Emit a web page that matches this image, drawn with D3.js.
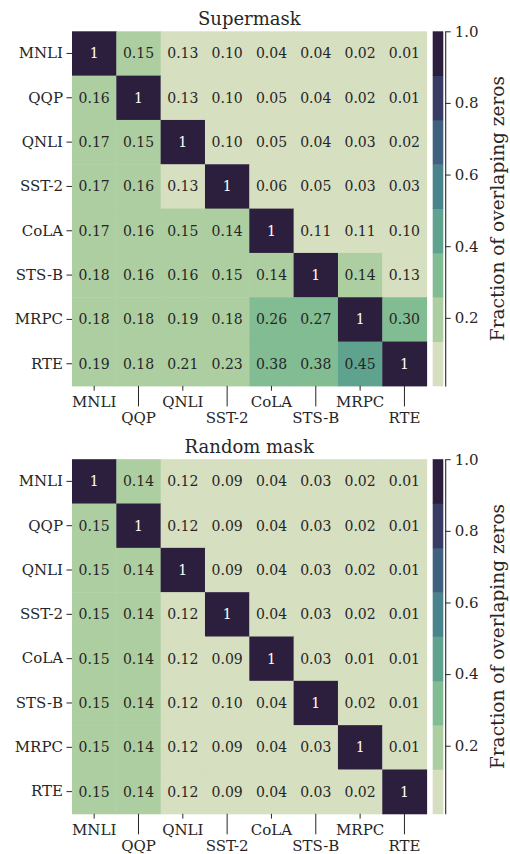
<!DOCTYPE html>
<html>
<head>
<meta charset="utf-8">
<script src="https://cdn.jsdelivr.net/npm/d3@7"></script>
<style>
  html, body { margin: 0; padding: 0; background: #fff; }
  svg { display: block; }
</style>
</head>
<body>
<script>
// ---------------- data ----------------
const tasks = ["MNLI", "QQP", "QNLI", "SST-2", "CoLA", "STS-B", "MRPC", "RTE"];

const supermaskValues = [
  [1,    0.15, 0.13, 0.10, 0.04, 0.04, 0.02, 0.01],
  [0.16, 1,    0.13, 0.10, 0.05, 0.04, 0.02, 0.01],
  [0.17, 0.15, 1,    0.10, 0.05, 0.04, 0.03, 0.02],
  [0.17, 0.16, 0.13, 1,    0.06, 0.05, 0.03, 0.03],
  [0.17, 0.16, 0.15, 0.14, 1,    0.11, 0.11, 0.10],
  [0.18, 0.16, 0.16, 0.15, 0.14, 1,    0.14, 0.13],
  [0.18, 0.18, 0.19, 0.18, 0.26, 0.27, 1,    0.30],
  [0.19, 0.18, 0.21, 0.23, 0.38, 0.38, 0.45, 1]
];

const randomMaskValues = [
  [1,    0.14, 0.12, 0.09, 0.04, 0.03, 0.02, 0.01],
  [0.15, 1,    0.12, 0.09, 0.04, 0.03, 0.02, 0.01],
  [0.15, 0.14, 1,    0.09, 0.04, 0.03, 0.02, 0.01],
  [0.15, 0.14, 0.12, 1,    0.04, 0.03, 0.02, 0.01],
  [0.15, 0.14, 0.12, 0.09, 1,    0.03, 0.01, 0.01],
  [0.15, 0.14, 0.12, 0.10, 0.04, 1,    0.02, 0.01],
  [0.15, 0.14, 0.12, 0.09, 0.04, 0.03, 1,    0.01],
  [0.15, 0.14, 0.12, 0.09, 0.04, 0.03, 0.02, 1]
];

const panelTitles = ["Supermask", "Random mask"];
const colorbarTicks = [0.2, 0.4, 0.6, 0.8, 1.0];
const colorbarLabel = "Fraction of overlaping zeros";
const valueDomain = [0.01, 1.0];
const nColors = 8;

// ---------------- palette (seaborn cubehelix, start=.5, rot=-.75) ----------------
function cubehelixColor(x, start = 0.5, rot = -0.75, gamma = 1.0, hue = 0.8) {
  const xg = Math.pow(x, gamma);
  const a = hue * xg * (1 - xg) / 2;
  const phi = 2 * Math.PI * (start / 3 + rot * x);
  const c = Math.cos(phi), s = Math.sin(phi);
  const clip = v => Math.max(0, Math.min(1, v));
  const r = clip(xg + a * (-0.14861 * c + 1.78277 * s));
  const g = clip(xg + a * (-0.29227 * c - 0.90649 * s));
  const b = clip(xg + a * (1.97294 * c));
  return d3.rgb(r * 255, g * 255, b * 255).formatHex();
}
const palette = d3.range(nColors).map(i => cubehelixColor(0.85 + (0.15 - 0.85) * i / (nColors - 1)));
const color = d3.scaleQuantize().domain(valueDomain).range(palette);

// ---------------- layout ----------------
const W = 510, H = 854;
const serif = "DejaVu Serif";
const svg = d3.select("body").append("svg")
  .attr("width", W).attr("height", H)
  .style("font-family", serif);

const heatLeft = 72, heatSize = 354.6;
const cbLeft = 432.7, cbWidth = 10.6, cbLine = 445.2;
const panels = [
  { title: panelTitles[0], values: supermaskValues, top: 31.3 },
  { title: panelTitles[1], values: randomMaskValues, top: 459.2 }
];
const ink = "#262626";
const fs = 15;

panels.forEach(p => {
  const g = svg.append("g");
  const x = d3.scaleBand().domain(tasks).range([heatLeft, heatLeft + heatSize]);
  const y = d3.scaleBand().domain(tasks).range([p.top, p.top + heatSize]);

  // title
  g.append("text")
    .attr("x", heatLeft + heatSize / 2)
    .attr("y", p.top - 6.5)
    .attr("text-anchor", "middle")
    .style("font-family", serif)
    .style("font-size", "18px")
    .style("fill", ink)
    .text(p.title);

  // cells
  const cells = [];
  p.values.forEach((row, i) => row.forEach((v, j) => cells.push({ r: tasks[i], c: tasks[j], v })));
  g.selectAll("rect.cell").data(cells).join("rect")
    .attr("class", "cell")
    .attr("x", d => x(d.c))
    .attr("y", d => y(d.r))
    .attr("width", x.bandwidth() + 0.5)
    .attr("height", y.bandwidth() + 0.5)
    .attr("fill", d => color(d.v));

  g.selectAll("text.annot").data(cells).join("text")
    .attr("class", "annot")
    .attr("x", d => x(d.c) + x.bandwidth() / 2)
    .attr("y", d => y(d.r) + y.bandwidth() / 2)
    .attr("text-anchor", "middle")
    .attr("dominant-baseline", "central")
    .attr("fill", d => d.v > 0.6 ? "#ffffff" : "#262626")
    .style("font-family", serif)
    .style("font-size", "14px")
    .text(d => d.v === 1 ? "1" : d3.format(".2f")(d.v));

  // y axis
  const yAxis = g.append("g")
    .attr("transform", `translate(${heatLeft},0)`)
    .call(d3.axisLeft(y).tickSize(5.5).tickPadding(3.5));
  yAxis.attr("font-family", serif);
  yAxis.select(".domain").remove();
  yAxis.selectAll("line").attr("stroke", ink).attr("stroke-width", 1);
  yAxis.selectAll("text")
    .attr("fill", ink)
    .style("font-family", serif)
    .style("font-size", fs + "px");

  // x axis with staggered labels
  const bottom = p.top + heatSize;
  const xAxis = g.append("g")
    .attr("transform", `translate(0,${bottom})`)
    .call(d3.axisBottom(x).tickSize(0));
  xAxis.attr("font-family", serif);
  xAxis.select(".domain").remove();
  xAxis.selectAll(".tick").each(function (d, i) {
    const t = d3.select(this);
    t.select("line")
      .attr("y2", i % 2 === 0 ? 4.8 : 20.5)
      .attr("stroke", ink).attr("stroke-width", 1);
    t.select("text")
      .attr("dy", null)
      .attr("y", i % 2 === 0 ? 20.8 : 37.2)
      .attr("fill", ink)
      .style("font-family", serif)
      .style("font-size", fs + "px");
  });

  // colorbar
  const cy = d3.scaleLinear().domain(valueDomain).range([bottom, p.top]);
  const step = (valueDomain[1] - valueDomain[0]) / nColors;
  const bins = palette.map((c, i) => ({ lo: valueDomain[0] + i * step, hi: valueDomain[0] + (i + 1) * step, c }));
  g.selectAll("rect.cb").data(bins).join("rect")
    .attr("class", "cb")
    .attr("x", cbLeft)
    .attr("width", cbWidth)
    .attr("y", d => cy(d.hi))
    .attr("height", d => cy(d.lo) - cy(d.hi) + 0.4)
    .attr("fill", d => d.c);

  const cbAxis = g.append("g")
    .attr("transform", `translate(${cbLine},0)`)
    .call(d3.axisRight(cy).tickValues(colorbarTicks).tickFormat(d3.format(".1f")).tickSize(5.5).tickSizeOuter(0).tickPadding(4));
  cbAxis.attr("font-family", serif);
  cbAxis.select(".domain").attr("stroke", ink).attr("stroke-width", 1.1);
  cbAxis.selectAll("line").attr("stroke", ink).attr("stroke-width", 1);
  cbAxis.selectAll("text")
    .attr("fill", ink)
    .style("font-family", serif)
    .style("font-size", fs + "px");

  g.append("text")
    .attr("transform", `translate(504,${p.top + heatSize / 2}) rotate(-90)`)
    .attr("text-anchor", "middle")
    .style("font-family", serif)
    .style("font-size", "18.5px")
    .style("fill", ink)
    .text(colorbarLabel);
});
</script>
</body>
</html>
